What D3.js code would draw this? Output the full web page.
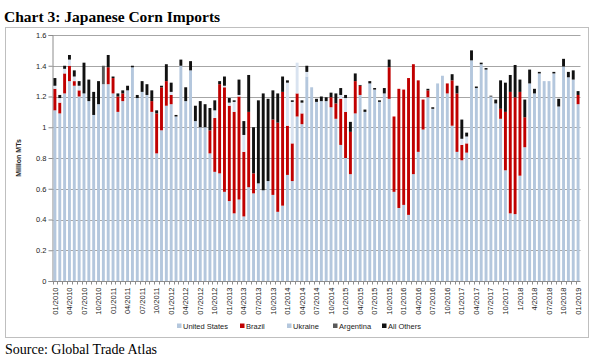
<!DOCTYPE html>
<html><head><meta charset="utf-8">
<script src="https://cdn.jsdelivr.net/npm/d3@7"></script>
<style>body{margin:0;background:#fff}svg{display:block}</style>
</head><body>
<script>
// ---- data (million metric tons) ----
const seriesKeys = ["us","brazil","ukraine","argentina","others"];
const seriesNames = ["United States","Brazil","Ukraine","Argentina","All Others"];
const us = [1.11,1.09,1.22,1.30,1.27,1.20,1.22,1.17,1.08,1.15,1.28,1.28,1.22,1.10,1.17,1.24,1.39,1.19,1.23,1.21,1.10,0.83,0.98,1.14,1.15,1.07,1.40,1.17,1.37,1.04,1.00,1.00,0.83,0.71,0.70,0.58,0.52,0.44,0.53,0.42,0.61,0.57,0.635,0.59,0.65,0.56,0.45,0.49,0.69,0.65,1.07,1.02,1.33,1.26,1.165,1.17,1.17,1.13,1.055,0.885,0.80,0.695,1.09,1.21,1.10,1.285,1.245,1.165,1.22,1.185,0.58,0.475,0.495,0.43,0.695,0.84,0.985,1.195,1.12,1.285,1.335,1.22,1.01,0.84,0.785,0.835,1.435,1.255,1.41,1.375,1.20,1.155,1.055,0.72,0.44,0.435,0.685,0.87,1.285,1.22,1.35,1.30,1.30,1.35,1.135,1.395,1.325,1.31,1.15];
const brazil = [0.14,0.07,0.13,0.10,0.03,0.04,0,0,0,0,0,0.11,0.10,0.10,0.05,0,0,0,0,0,0.07,0.26,0.28,0.16,0.06,0,0,0,0,0,0,0,0.15,0.35,0.58,0.68,0.62,0.66,0.67,0.42,0.49,0.13,0,0,0,0.49,0.58,0.74,0.32,0.245,0.15,0.07,0,0,0,0,0,0.065,0.10,0.30,0.30,0.275,0.21,0.06,0,0,0,0,0,0.205,0.49,0.775,0.75,0.89,0.715,0.465,0.195,0.045,0,0,0,0.065,0.295,0.38,0.10,0.06,0,0,0,0,0,0,0.065,0.38,0.79,0.76,0.545,0.195,0,0,0,0,0,0,0,0,0,0,0.06];
const ukraine = [0.02,0.03,0.03,0.04,0.03,0.03,0,0,0,0,0,0,0,0,0,0,0,0,0,0,0,0,0,0,0.02,0,0,0,0,0,0,0,0,0.05,0,0.01,0.02,0.065,0.01,0.11,0,0,0,0,0,0,0,0,0.28,0.27,0.20,0.07,0.03,0,0,0,0,0,0,0.025,0.09,0,0,0,0,0,0,0,0,0,0,0,0,0,0,0,0,0,0,0,0,0,0,0,0.04,0.045,0,0,0,0,0,0,0,0,0,0,0,0,0,0,0,0,0,0,0,0,0,0,0];
const argentina = [0,0,0,0,0,0,0,0,0,0,0.12,0,0,0,0,0,0,0,0,0,0,0,0,0,0,0,0,0,0,0,0,0,0,0,0,0,0,0,0,0,0,0,0,0,0,0,0,0,0,0,0,0,0,0,0,0,0,0,0,0,0,0,0,0,0,0,0,0,0,0,0,0,0,0,0,0,0,0,0,0,0,0,0,0,0,0,0,0,0,0,0,0,0,0,0,0,0,0,0,0,0,0,0,0,0,0,0,0,0];
const others = [0.05,0.02,0.02,0.03,0.04,0.03,0.20,0.14,0.15,0.15,0,0.08,0.01,0.02,0.02,0.03,0.01,0.02,0.07,0.07,0.07,0.02,0.01,0.11,0.06,0.01,0.04,0.09,0.06,0.10,0.17,0.15,0.145,0.065,0.02,0.06,0.03,0.01,0.10,0.09,0.24,0.30,0.54,0.63,0.535,0.19,0.19,0.10,0.015,0.01,0,0.015,0.04,0,0.02,0.03,0.025,0.03,0.065,0.045,0.02,0.065,0.05,0.005,0.015,0.015,0.01,0.01,0.035,0.05,0,0,0,0,0,0,0,0.01,0.01,0,0,0,0.04,0.05,0.125,0.025,0.065,0.01,0.01,0.01,0.005,0.025,0.185,0.19,0.11,0.21,0.08,0.115,0.09,0.03,0.01,0,0,0.01,0.05,0.05,0.035,0.06,0.025];
const tickLabels = ["01/2010","04/2010","07/2010","10/2010","01/2011","04/2011","07/2011","10/2011","01/2012","04/2012","07/2012","10/2012","01/2013","04/2013","07/2013","10/2013","01/2014","04/2014","07/2014","10/2014","01/2015","04/2015","07/2015","10/2015","01/2016","04/2016","07/2016","10/2016","01/2017","04/2017","07/2017","10/2017","1/2018","4/2018","07/2018","10/2018","01/2019"];
const yTicks = [0,0.2,0.4,0.6,0.8,1,1.2,1.4,1.6];
const colors = {us:"#b4c7dd", brazil:"#c00000", ukraine:"#d9e3f0", argentina:"#595959", others:"#111111"};

// categories: one per month, Jan 2010 .. Jan 2019
const months = [];
for (let yr = 2010; yr <= 2019; yr++) for (let m = 1; m <= 12; m++) { if (months.length < us.length) months.push(yr + "-" + String(m).padStart(2,"0")); }

const table = months.map((mo, i) => ({month: mo, us: us[i], brazil: brazil[i], ukraine: ukraine[i], argentina: argentina[i], others: others[i]}));

// ---- layout ----
const W = 600, H = 361;
const svg = d3.select("body").append("svg").attr("width", W).attr("height", H);
svg.append("rect").attr("width", W).attr("height", H).attr("fill", "#fff");

svg.append("text").attr("x", 4).attr("y", 22)
  .attr("font-family", "'Liberation Serif','Times New Roman',serif").attr("font-weight", "bold")
  .attr("font-size", 15.5).attr("fill", "#000").text("Chart 3: Japanese Corn Imports");

// chart frame
svg.append("rect").attr("x", 5.5).attr("y", 27.5).attr("width", 583).attr("height", 310)
  .attr("fill", "none").attr("stroke", "#bfbfbf").attr("stroke-width", 1);

const pLeft = 52.5, pRight = 580.5, pTop = 35, pBottom = 281;
const x = d3.scaleBand().domain(months).range([pLeft, pRight]).paddingInner(0.4).paddingOuter(0.2);
const y = d3.scaleLinear().domain([0, 1.6]).range([pBottom, pTop]);

// gridlines
svg.append("g").selectAll("line").data(yTicks.filter(d => d > 0)).join("line")
  .attr("x1", pLeft).attr("x2", pRight).attr("y1", d => Math.round(y(d)) + 0.5).attr("y2", d => Math.round(y(d)) + 0.5)
  .attr("stroke", "#a6a6a6").attr("stroke-width", 1);

// y axis
const yAxis = d3.axisLeft(y).tickValues(yTicks).tickSize(4).tickFormat(d => d3.format("~g")(d));
const gy = svg.append("g").attr("transform", `translate(${pLeft},0)`).call(yAxis);
gy.select(".domain").attr("stroke", "#8c8c8c");
gy.selectAll(".tick line").attr("stroke", "#8c8c8c");
gy.selectAll(".tick text").attr("font-family", "'Liberation Sans',Arial,sans-serif").attr("font-size", 7.5).attr("fill", "#222").attr("x", -6);

svg.append("text").attr("transform", "translate(21,158) rotate(-90)").attr("text-anchor", "middle")
  .attr("font-family", "'Liberation Sans',Arial,sans-serif").attr("font-size", 7).attr("font-weight", "bold")
  .attr("fill", "#222").text("Million MTs");

// stacked bars
const stacked = d3.stack().keys(seriesKeys)(table);
svg.append("g").selectAll("g").data(stacked).join("g").attr("fill", d => colors[d.key])
  .selectAll("rect").data(d => d.filter(p => p[1] - p[0] > 0)).join("rect")
  .attr("x", d => x(d.data.month)).attr("width", x.bandwidth())
  .attr("y", d => y(d[1])).attr("height", d => y(d[0]) - y(d[1]));

// x axis
const step = x.step();
const gx = svg.append("g").attr("transform", `translate(0,${pBottom + 0.5})`);
gx.append("line").attr("x1", pLeft).attr("x2", pRight).attr("stroke", "#8c8c8c");
gx.selectAll("line.t").data(months).join("line").attr("class", "t")
  .attr("x1", d => Math.round(x(d) - step * 0.2) + 0.5).attr("x2", d => Math.round(x(d) - step * 0.2) + 0.5)
  .attr("y1", 0).attr("y2", 3).attr("stroke", "#8c8c8c");
const labelMonths = months.filter((d, i) => i % 3 === 0);
gx.selectAll("text").data(labelMonths).join("text")
  .attr("transform", (d, i) => `translate(${x(d) + x.bandwidth() / 2 + 2.6},6) rotate(-90)`)
  .attr("text-anchor", "end").attr("font-family", "'Liberation Sans',Arial,sans-serif")
  .attr("font-size", 7.5).attr("fill", "#222").text((d, i) => tickLabels[i]);

// legend
const legendX = [177, 240, 287, 333, 382];
const lg = svg.append("g");
seriesKeys.forEach((k, i) => {
  lg.append("rect").attr("x", legendX[i]).attr("y", 323.5).attr("width", 4.5).attr("height", 4.5).attr("fill", k === "ukraine" ? "#b4c7dd" : colors[k]);
  lg.append("text").attr("x", legendX[i] + 6).attr("y", 328.5)
    .attr("font-family", "'Liberation Sans',Arial,sans-serif").attr("font-size", 7.5).attr("fill", "#222")
    .text(seriesNames[i]);
});

svg.append("text").attr("x", 5).attr("y", 354)
  .attr("font-family", "'Liberation Serif','Times New Roman',serif").attr("font-size", 14)
  .attr("fill", "#000").text("Source: Global Trade Atlas");
</script>
</body></html>
